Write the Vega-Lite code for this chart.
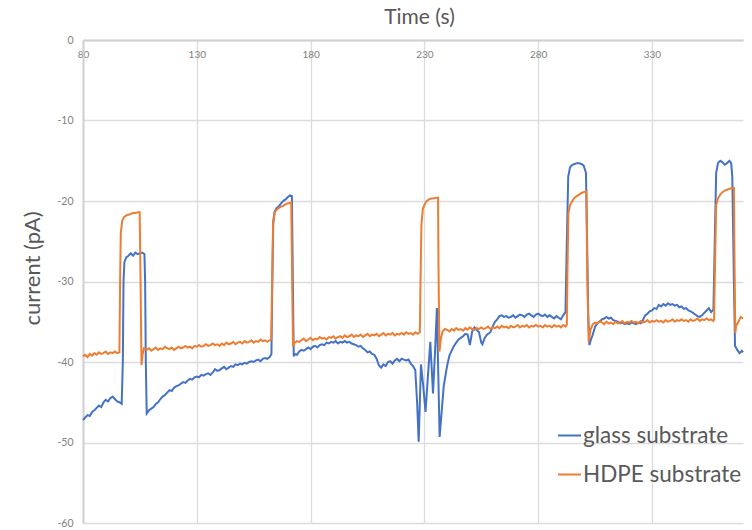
{
  "$schema": "https://vega.github.io/schema/vega-lite/v6.json",
  "width": 660,
  "height": 483,
  "autosize": {"type": "none"},
  "padding": {"left": 83, "top": 40, "right": 9, "bottom": 7},
  "background": "white",
  "config": {
    "view": {"stroke": null},
    "font": "Lato"
  },
  "data": {"values": [
    {"t":80,"v":-47.2,"s":"glass substrate"},{"t":81,"v":-46.9,"s":"glass substrate"},{"t":82,"v":-46.6,"s":"glass substrate"},{"t":83,"v":-46.7,"s":"glass substrate"},{"t":84,"v":-46.2,"s":"glass substrate"},{"t":85,"v":-46.0,"s":"glass substrate"},{"t":86,"v":-45.7,"s":"glass substrate"},{"t":87,"v":-45.4,"s":"glass substrate"},{"t":88,"v":-45.6,"s":"glass substrate"},{"t":89,"v":-45.0,"s":"glass substrate"},{"t":90,"v":-44.7,"s":"glass substrate"},{"t":91,"v":-44.9,"s":"glass substrate"},{"t":92,"v":-44.5,"s":"glass substrate"},{"t":93,"v":-44.3,"s":"glass substrate"},{"t":94,"v":-44.6,"s":"glass substrate"},{"t":95,"v":-44.9,"s":"glass substrate"},{"t":96,"v":-45.0,"s":"glass substrate"},{"t":97,"v":-45.2,"s":"glass substrate"},{"t":97.5,"v":-40,"s":"glass substrate"},{"t":97.8,"v":-30,"s":"glass substrate"},{"t":98.2,"v":-27.6,"s":"glass substrate"},{"t":99,"v":-27.0,"s":"glass substrate"},{"t":100,"v":-26.8,"s":"glass substrate"},{"t":101,"v":-26.5,"s":"glass substrate"},{"t":102,"v":-26.8,"s":"glass substrate"},{"t":103,"v":-26.4,"s":"glass substrate"},{"t":104,"v":-26.6,"s":"glass substrate"},{"t":105,"v":-26.5,"s":"glass substrate"},{"t":106,"v":-26.4,"s":"glass substrate"},{"t":107,"v":-26.6,"s":"glass substrate"},{"t":107.3,"v":-30,"s":"glass substrate"},{"t":107.6,"v":-40,"s":"glass substrate"},{"t":108,"v":-46.4,"s":"glass substrate"},{"t":109,"v":-46.0,"s":"glass substrate"},{"t":110,"v":-45.8,"s":"glass substrate"},{"t":111,"v":-45.6,"s":"glass substrate"},{"t":112,"v":-45.2,"s":"glass substrate"},{"t":113,"v":-45.0,"s":"glass substrate"},{"t":114,"v":-44.6,"s":"glass substrate"},{"t":115,"v":-44.3,"s":"glass substrate"},{"t":116,"v":-44.1,"s":"glass substrate"},{"t":117,"v":-43.8,"s":"glass substrate"},{"t":118,"v":-43.5,"s":"glass substrate"},{"t":119,"v":-43.6,"s":"glass substrate"},{"t":120,"v":-43.2,"s":"glass substrate"},{"t":121,"v":-43.0,"s":"glass substrate"},{"t":122,"v":-42.9,"s":"glass substrate"},{"t":123,"v":-42.7,"s":"glass substrate"},{"t":124,"v":-42.5,"s":"glass substrate"},{"t":125,"v":-42.6,"s":"glass substrate"},{"t":126,"v":-42.3,"s":"glass substrate"},{"t":127,"v":-42.1,"s":"glass substrate"},{"t":128,"v":-42.2,"s":"glass substrate"},{"t":129,"v":-41.9,"s":"glass substrate"},{"t":130,"v":-41.8,"s":"glass substrate"},{"t":131,"v":-41.9,"s":"glass substrate"},{"t":132,"v":-41.6,"s":"glass substrate"},{"t":133,"v":-41.7,"s":"glass substrate"},{"t":134,"v":-41.5,"s":"glass substrate"},{"t":135,"v":-41.4,"s":"glass substrate"},{"t":136,"v":-41.6,"s":"glass substrate"},{"t":137,"v":-41.3,"s":"glass substrate"},{"t":138,"v":-40.9,"s":"glass substrate"},{"t":139,"v":-41.1,"s":"glass substrate"},{"t":140,"v":-41.0,"s":"glass substrate"},{"t":141,"v":-40.8,"s":"glass substrate"},{"t":142,"v":-40.6,"s":"glass substrate"},{"t":143,"v":-40.9,"s":"glass substrate"},{"t":144,"v":-40.7,"s":"glass substrate"},{"t":145,"v":-40.5,"s":"glass substrate"},{"t":146,"v":-40.6,"s":"glass substrate"},{"t":147,"v":-40.3,"s":"glass substrate"},{"t":148,"v":-40.4,"s":"glass substrate"},{"t":149,"v":-40.2,"s":"glass substrate"},{"t":150,"v":-40.3,"s":"glass substrate"},{"t":151,"v":-40.1,"s":"glass substrate"},{"t":152,"v":-40.2,"s":"glass substrate"},{"t":153,"v":-40.0,"s":"glass substrate"},{"t":154,"v":-39.9,"s":"glass substrate"},{"t":155,"v":-40.0,"s":"glass substrate"},{"t":156,"v":-39.8,"s":"glass substrate"},{"t":157,"v":-39.7,"s":"glass substrate"},{"t":158,"v":-39.9,"s":"glass substrate"},{"t":159,"v":-39.6,"s":"glass substrate"},{"t":160,"v":-39.5,"s":"glass substrate"},{"t":161,"v":-39.6,"s":"glass substrate"},{"t":162,"v":-39.4,"s":"glass substrate"},{"t":162.8,"v":-39.0,"s":"glass substrate"},{"t":163.2,"v":-30,"s":"glass substrate"},{"t":163.6,"v":-22.5,"s":"glass substrate"},{"t":164.2,"v":-21.3,"s":"glass substrate"},{"t":165,"v":-20.9,"s":"glass substrate"},{"t":166,"v":-20.7,"s":"glass substrate"},{"t":167,"v":-20.3,"s":"glass substrate"},{"t":168,"v":-20.0,"s":"glass substrate"},{"t":169,"v":-19.8,"s":"glass substrate"},{"t":170,"v":-19.5,"s":"glass substrate"},{"t":171,"v":-19.3,"s":"glass substrate"},{"t":171.8,"v":-19.4,"s":"glass substrate"},{"t":172.2,"v":-30,"s":"glass substrate"},{"t":172.6,"v":-39.3,"s":"glass substrate"},{"t":173,"v":-39.0,"s":"glass substrate"},{"t":174,"v":-39.1,"s":"glass substrate"},{"t":175,"v":-38.7,"s":"glass substrate"},{"t":176,"v":-38.5,"s":"glass substrate"},{"t":177,"v":-38.6,"s":"glass substrate"},{"t":178,"v":-38.4,"s":"glass substrate"},{"t":179,"v":-38.2,"s":"glass substrate"},{"t":180,"v":-38.4,"s":"glass substrate"},{"t":181,"v":-38.1,"s":"glass substrate"},{"t":182,"v":-38.0,"s":"glass substrate"},{"t":183,"v":-38.2,"s":"glass substrate"},{"t":184,"v":-37.9,"s":"glass substrate"},{"t":185,"v":-37.8,"s":"glass substrate"},{"t":186,"v":-37.9,"s":"glass substrate"},{"t":187,"v":-37.6,"s":"glass substrate"},{"t":188,"v":-37.7,"s":"glass substrate"},{"t":189,"v":-37.5,"s":"glass substrate"},{"t":190,"v":-37.6,"s":"glass substrate"},{"t":191,"v":-37.4,"s":"glass substrate"},{"t":192,"v":-37.7,"s":"glass substrate"},{"t":193,"v":-37.5,"s":"glass substrate"},{"t":194,"v":-37.6,"s":"glass substrate"},{"t":195,"v":-37.4,"s":"glass substrate"},{"t":196,"v":-37.6,"s":"glass substrate"},{"t":197,"v":-37.5,"s":"glass substrate"},{"t":198,"v":-37.7,"s":"glass substrate"},{"t":199,"v":-37.8,"s":"glass substrate"},{"t":200,"v":-37.9,"s":"glass substrate"},{"t":201,"v":-38.1,"s":"glass substrate"},{"t":202,"v":-38.0,"s":"glass substrate"},{"t":203,"v":-38.3,"s":"glass substrate"},{"t":204,"v":-38.5,"s":"glass substrate"},{"t":205,"v":-38.8,"s":"glass substrate"},{"t":206,"v":-38.7,"s":"glass substrate"},{"t":207,"v":-39.0,"s":"glass substrate"},{"t":208,"v":-39.1,"s":"glass substrate"},{"t":209,"v":-39.6,"s":"glass substrate"},{"t":210,"v":-40.4,"s":"glass substrate"},{"t":211,"v":-40.7,"s":"glass substrate"},{"t":212,"v":-40.3,"s":"glass substrate"},{"t":213,"v":-40.5,"s":"glass substrate"},{"t":214,"v":-40.0,"s":"glass substrate"},{"t":215,"v":-39.9,"s":"glass substrate"},{"t":216,"v":-40.2,"s":"glass substrate"},{"t":217,"v":-39.8,"s":"glass substrate"},{"t":218,"v":-39.6,"s":"glass substrate"},{"t":219,"v":-39.9,"s":"glass substrate"},{"t":220,"v":-39.6,"s":"glass substrate"},{"t":221,"v":-39.7,"s":"glass substrate"},{"t":222,"v":-39.8,"s":"glass substrate"},{"t":223,"v":-39.7,"s":"glass substrate"},{"t":224,"v":-40.2,"s":"glass substrate"},{"t":225,"v":-40.5,"s":"glass substrate"},{"t":226,"v":-41.0,"s":"glass substrate"},{"t":226.8,"v":-45,"s":"glass substrate"},{"t":227.5,"v":-49.9,"s":"glass substrate"},{"t":228,"v":-45,"s":"glass substrate"},{"t":228.5,"v":-40.3,"s":"glass substrate"},{"t":229.5,"v":-43,"s":"glass substrate"},{"t":230.5,"v":-46.2,"s":"glass substrate"},{"t":231.5,"v":-42,"s":"glass substrate"},{"t":232.6,"v":-37.5,"s":"glass substrate"},{"t":233.8,"v":-43.9,"s":"glass substrate"},{"t":234.8,"v":-38,"s":"glass substrate"},{"t":235.5,"v":-33.3,"s":"glass substrate"},{"t":236,"v":-40,"s":"glass substrate"},{"t":236.7,"v":-49.3,"s":"glass substrate"},{"t":237.5,"v":-46.5,"s":"glass substrate"},{"t":238.5,"v":-43,"s":"glass substrate"},{"t":239.9,"v":-40.6,"s":"glass substrate"},{"t":241,"v":-39.2,"s":"glass substrate"},{"t":242.8,"v":-38.1,"s":"glass substrate"},{"t":244,"v":-37.6,"s":"glass substrate"},{"t":245,"v":-37.2,"s":"glass substrate"},{"t":246,"v":-37.0,"s":"glass substrate"},{"t":247,"v":-36.8,"s":"glass substrate"},{"t":248,"v":-36.5,"s":"glass substrate"},{"t":249,"v":-36.6,"s":"glass substrate"},{"t":250,"v":-37.9,"s":"glass substrate"},{"t":251,"v":-36.2,"s":"glass substrate"},{"t":252,"v":-35.7,"s":"glass substrate"},{"t":253,"v":-36.0,"s":"glass substrate"},{"t":254,"v":-36.3,"s":"glass substrate"},{"t":255,"v":-37.6,"s":"glass substrate"},{"t":255.5,"v":-37.8,"s":"glass substrate"},{"t":256.5,"v":-37.0,"s":"glass substrate"},{"t":257.5,"v":-36.6,"s":"glass substrate"},{"t":259,"v":-36.3,"s":"glass substrate"},{"t":260,"v":-35.6,"s":"glass substrate"},{"t":261,"v":-35.0,"s":"glass substrate"},{"t":262,"v":-34.7,"s":"glass substrate"},{"t":263,"v":-34.3,"s":"glass substrate"},{"t":264,"v":-34.2,"s":"glass substrate"},{"t":265,"v":-34.4,"s":"glass substrate"},{"t":266,"v":-34.3,"s":"glass substrate"},{"t":267,"v":-34.5,"s":"glass substrate"},{"t":268,"v":-34.4,"s":"glass substrate"},{"t":269,"v":-34.2,"s":"glass substrate"},{"t":270,"v":-34.5,"s":"glass substrate"},{"t":271,"v":-34.3,"s":"glass substrate"},{"t":272,"v":-34.1,"s":"glass substrate"},{"t":273,"v":-34.2,"s":"glass substrate"},{"t":274,"v":-34.4,"s":"glass substrate"},{"t":275,"v":-34.1,"s":"glass substrate"},{"t":276,"v":-34.0,"s":"glass substrate"},{"t":277,"v":-34.2,"s":"glass substrate"},{"t":278,"v":-34.4,"s":"glass substrate"},{"t":279,"v":-34.1,"s":"glass substrate"},{"t":280,"v":-34.0,"s":"glass substrate"},{"t":281,"v":-34.2,"s":"glass substrate"},{"t":282,"v":-34.3,"s":"glass substrate"},{"t":283,"v":-34.1,"s":"glass substrate"},{"t":284,"v":-34.4,"s":"glass substrate"},{"t":285,"v":-34.2,"s":"glass substrate"},{"t":286,"v":-34.4,"s":"glass substrate"},{"t":287,"v":-34.6,"s":"glass substrate"},{"t":288,"v":-34.3,"s":"glass substrate"},{"t":289,"v":-34.5,"s":"glass substrate"},{"t":290,"v":-34.7,"s":"glass substrate"},{"t":291,"v":-34.2,"s":"glass substrate"},{"t":292,"v":-33.8,"s":"glass substrate"},{"t":292.6,"v":-25,"s":"glass substrate"},{"t":293.2,"v":-17,"s":"glass substrate"},{"t":294,"v":-15.8,"s":"glass substrate"},{"t":295,"v":-15.5,"s":"glass substrate"},{"t":296,"v":-15.4,"s":"glass substrate"},{"t":297,"v":-15.3,"s":"glass substrate"},{"t":298,"v":-15.3,"s":"glass substrate"},{"t":299,"v":-15.4,"s":"glass substrate"},{"t":300,"v":-15.6,"s":"glass substrate"},{"t":301,"v":-16.5,"s":"glass substrate"},{"t":301.5,"v":-25,"s":"glass substrate"},{"t":302,"v":-34,"s":"glass substrate"},{"t":302.5,"v":-37.9,"s":"glass substrate"},{"t":303.2,"v":-37.2,"s":"glass substrate"},{"t":304,"v":-36.6,"s":"glass substrate"},{"t":305,"v":-35.6,"s":"glass substrate"},{"t":306,"v":-35.2,"s":"glass substrate"},{"t":307,"v":-35.0,"s":"glass substrate"},{"t":308,"v":-34.7,"s":"glass substrate"},{"t":309,"v":-34.6,"s":"glass substrate"},{"t":310,"v":-34.4,"s":"glass substrate"},{"t":311,"v":-34.6,"s":"glass substrate"},{"t":312,"v":-34.5,"s":"glass substrate"},{"t":313,"v":-34.8,"s":"glass substrate"},{"t":314,"v":-34.9,"s":"glass substrate"},{"t":315,"v":-35.0,"s":"glass substrate"},{"t":316,"v":-35.2,"s":"glass substrate"},{"t":317,"v":-35.1,"s":"glass substrate"},{"t":318,"v":-35.3,"s":"glass substrate"},{"t":319,"v":-35.2,"s":"glass substrate"},{"t":320,"v":-35.3,"s":"glass substrate"},{"t":321,"v":-35.1,"s":"glass substrate"},{"t":322,"v":-35.2,"s":"glass substrate"},{"t":323,"v":-35.3,"s":"glass substrate"},{"t":324,"v":-35.1,"s":"glass substrate"},{"t":325,"v":-35.2,"s":"glass substrate"},{"t":326,"v":-34.8,"s":"glass substrate"},{"t":327,"v":-34.2,"s":"glass substrate"},{"t":328,"v":-34.0,"s":"glass substrate"},{"t":329,"v":-33.7,"s":"glass substrate"},{"t":330,"v":-33.6,"s":"glass substrate"},{"t":331,"v":-33.3,"s":"glass substrate"},{"t":332,"v":-33.4,"s":"glass substrate"},{"t":333,"v":-32.9,"s":"glass substrate"},{"t":334,"v":-33.1,"s":"glass substrate"},{"t":335,"v":-32.8,"s":"glass substrate"},{"t":336,"v":-33.0,"s":"glass substrate"},{"t":337,"v":-32.7,"s":"glass substrate"},{"t":338,"v":-32.9,"s":"glass substrate"},{"t":339,"v":-32.8,"s":"glass substrate"},{"t":340,"v":-33.0,"s":"glass substrate"},{"t":341,"v":-32.9,"s":"glass substrate"},{"t":342,"v":-33.2,"s":"glass substrate"},{"t":343,"v":-33.1,"s":"glass substrate"},{"t":344,"v":-33.4,"s":"glass substrate"},{"t":345,"v":-33.3,"s":"glass substrate"},{"t":346,"v":-33.6,"s":"glass substrate"},{"t":347,"v":-33.7,"s":"glass substrate"},{"t":348,"v":-33.9,"s":"glass substrate"},{"t":349,"v":-34.1,"s":"glass substrate"},{"t":350,"v":-34.3,"s":"glass substrate"},{"t":351,"v":-34.4,"s":"glass substrate"},{"t":352,"v":-34.2,"s":"glass substrate"},{"t":353,"v":-33.9,"s":"glass substrate"},{"t":354,"v":-33.6,"s":"glass substrate"},{"t":355,"v":-33.3,"s":"glass substrate"},{"t":356,"v":-33.8,"s":"glass substrate"},{"t":357,"v":-33.5,"s":"glass substrate"},{"t":357.6,"v":-25,"s":"glass substrate"},{"t":358.2,"v":-16.5,"s":"glass substrate"},{"t":359,"v":-15.3,"s":"glass substrate"},{"t":360,"v":-15.0,"s":"glass substrate"},{"t":361,"v":-15.2,"s":"glass substrate"},{"t":362,"v":-15.5,"s":"glass substrate"},{"t":363,"v":-15.3,"s":"glass substrate"},{"t":364,"v":-15.0,"s":"glass substrate"},{"t":364.8,"v":-15.3,"s":"glass substrate"},{"t":365.3,"v":-17,"s":"glass substrate"},{"t":366,"v":-30,"s":"glass substrate"},{"t":366.5,"v":-38.0,"s":"glass substrate"},{"t":367.5,"v":-38.5,"s":"glass substrate"},{"t":368.5,"v":-38.9,"s":"glass substrate"},{"t":369.5,"v":-38.6,"s":"glass substrate"},{"t":370,"v":-38.8,"s":"glass substrate"},

    {"t":80,"v":-39.3,"s":"HDPE substrate"},{"t":81,"v":-39.1,"s":"HDPE substrate"},{"t":82,"v":-39.4,"s":"HDPE substrate"},{"t":83,"v":-39.0,"s":"HDPE substrate"},{"t":84,"v":-39.2,"s":"HDPE substrate"},{"t":85,"v":-38.9,"s":"HDPE substrate"},{"t":86,"v":-39.1,"s":"HDPE substrate"},{"t":87,"v":-38.8,"s":"HDPE substrate"},{"t":88,"v":-39.0,"s":"HDPE substrate"},{"t":89,"v":-38.9,"s":"HDPE substrate"},{"t":90,"v":-38.7,"s":"HDPE substrate"},{"t":91,"v":-39.0,"s":"HDPE substrate"},{"t":92,"v":-38.8,"s":"HDPE substrate"},{"t":93,"v":-38.9,"s":"HDPE substrate"},{"t":94,"v":-38.7,"s":"HDPE substrate"},{"t":95,"v":-38.9,"s":"HDPE substrate"},{"t":96,"v":-38.8,"s":"HDPE substrate"},{"t":96.3,"v":-30,"s":"HDPE substrate"},{"t":96.6,"v":-24,"s":"HDPE substrate"},{"t":97.2,"v":-22.5,"s":"HDPE substrate"},{"t":98,"v":-22.0,"s":"HDPE substrate"},{"t":99,"v":-21.8,"s":"HDPE substrate"},{"t":100,"v":-21.7,"s":"HDPE substrate"},{"t":101,"v":-21.6,"s":"HDPE substrate"},{"t":102,"v":-21.5,"s":"HDPE substrate"},{"t":103,"v":-21.5,"s":"HDPE substrate"},{"t":104,"v":-21.4,"s":"HDPE substrate"},{"t":104.9,"v":-21.4,"s":"HDPE substrate"},{"t":105.3,"v":-30,"s":"HDPE substrate"},{"t":105.7,"v":-40.4,"s":"HDPE substrate"},{"t":106.2,"v":-39,"s":"HDPE substrate"},{"t":106.8,"v":-38.3,"s":"HDPE substrate"},{"t":108,"v":-38.5,"s":"HDPE substrate"},{"t":109,"v":-38.3,"s":"HDPE substrate"},{"t":110,"v":-38.6,"s":"HDPE substrate"},{"t":111,"v":-38.4,"s":"HDPE substrate"},{"t":112,"v":-38.2,"s":"HDPE substrate"},{"t":113,"v":-38.5,"s":"HDPE substrate"},{"t":114,"v":-38.3,"s":"HDPE substrate"},{"t":115,"v":-38.4,"s":"HDPE substrate"},{"t":116,"v":-38.1,"s":"HDPE substrate"},{"t":117,"v":-38.3,"s":"HDPE substrate"},{"t":118,"v":-38.4,"s":"HDPE substrate"},{"t":119,"v":-38.2,"s":"HDPE substrate"},{"t":120,"v":-38.5,"s":"HDPE substrate"},{"t":121,"v":-38.3,"s":"HDPE substrate"},{"t":122,"v":-38.1,"s":"HDPE substrate"},{"t":123,"v":-38.3,"s":"HDPE substrate"},{"t":124,"v":-38.2,"s":"HDPE substrate"},{"t":125,"v":-38.0,"s":"HDPE substrate"},{"t":126,"v":-38.2,"s":"HDPE substrate"},{"t":127,"v":-38.1,"s":"HDPE substrate"},{"t":128,"v":-38.3,"s":"HDPE substrate"},{"t":129,"v":-38.0,"s":"HDPE substrate"},{"t":130,"v":-38.1,"s":"HDPE substrate"},{"t":131,"v":-37.9,"s":"HDPE substrate"},{"t":132,"v":-38.1,"s":"HDPE substrate"},{"t":133,"v":-38.0,"s":"HDPE substrate"},{"t":134,"v":-37.8,"s":"HDPE substrate"},{"t":135,"v":-38.0,"s":"HDPE substrate"},{"t":136,"v":-37.9,"s":"HDPE substrate"},{"t":137,"v":-37.7,"s":"HDPE substrate"},{"t":138,"v":-37.9,"s":"HDPE substrate"},{"t":139,"v":-37.8,"s":"HDPE substrate"},{"t":140,"v":-38.0,"s":"HDPE substrate"},{"t":141,"v":-37.7,"s":"HDPE substrate"},{"t":142,"v":-37.9,"s":"HDPE substrate"},{"t":143,"v":-37.6,"s":"HDPE substrate"},{"t":144,"v":-37.8,"s":"HDPE substrate"},{"t":145,"v":-37.7,"s":"HDPE substrate"},{"t":146,"v":-37.5,"s":"HDPE substrate"},{"t":147,"v":-37.8,"s":"HDPE substrate"},{"t":148,"v":-37.6,"s":"HDPE substrate"},{"t":149,"v":-37.5,"s":"HDPE substrate"},{"t":150,"v":-37.7,"s":"HDPE substrate"},{"t":151,"v":-37.4,"s":"HDPE substrate"},{"t":152,"v":-37.6,"s":"HDPE substrate"},{"t":153,"v":-37.5,"s":"HDPE substrate"},{"t":154,"v":-37.3,"s":"HDPE substrate"},{"t":155,"v":-37.6,"s":"HDPE substrate"},{"t":156,"v":-37.4,"s":"HDPE substrate"},{"t":157,"v":-37.5,"s":"HDPE substrate"},{"t":158,"v":-37.2,"s":"HDPE substrate"},{"t":159,"v":-37.4,"s":"HDPE substrate"},{"t":160,"v":-37.3,"s":"HDPE substrate"},{"t":161,"v":-37.5,"s":"HDPE substrate"},{"t":162,"v":-37.3,"s":"HDPE substrate"},{"t":162.7,"v":-37.2,"s":"HDPE substrate"},{"t":163.1,"v":-30,"s":"HDPE substrate"},{"t":163.5,"v":-23,"s":"HDPE substrate"},{"t":164.2,"v":-21.4,"s":"HDPE substrate"},{"t":165,"v":-21.1,"s":"HDPE substrate"},{"t":166,"v":-20.9,"s":"HDPE substrate"},{"t":167,"v":-20.7,"s":"HDPE substrate"},{"t":168,"v":-20.6,"s":"HDPE substrate"},{"t":169,"v":-20.4,"s":"HDPE substrate"},{"t":170,"v":-20.3,"s":"HDPE substrate"},{"t":171.5,"v":-20.2,"s":"HDPE substrate"},{"t":171.9,"v":-30,"s":"HDPE substrate"},{"t":172.3,"v":-38.1,"s":"HDPE substrate"},{"t":173,"v":-37.6,"s":"HDPE substrate"},{"t":174,"v":-37.4,"s":"HDPE substrate"},{"t":175,"v":-37.5,"s":"HDPE substrate"},{"t":176,"v":-37.3,"s":"HDPE substrate"},{"t":177,"v":-37.1,"s":"HDPE substrate"},{"t":178,"v":-37.4,"s":"HDPE substrate"},{"t":179,"v":-37.2,"s":"HDPE substrate"},{"t":180,"v":-37.0,"s":"HDPE substrate"},{"t":181,"v":-37.3,"s":"HDPE substrate"},{"t":182,"v":-37.1,"s":"HDPE substrate"},{"t":183,"v":-37.2,"s":"HDPE substrate"},{"t":184,"v":-36.9,"s":"HDPE substrate"},{"t":185,"v":-37.1,"s":"HDPE substrate"},{"t":186,"v":-37.0,"s":"HDPE substrate"},{"t":187,"v":-37.2,"s":"HDPE substrate"},{"t":188,"v":-36.9,"s":"HDPE substrate"},{"t":189,"v":-37.0,"s":"HDPE substrate"},{"t":190,"v":-36.8,"s":"HDPE substrate"},{"t":191,"v":-37.1,"s":"HDPE substrate"},{"t":192,"v":-36.9,"s":"HDPE substrate"},{"t":193,"v":-36.8,"s":"HDPE substrate"},{"t":194,"v":-37.0,"s":"HDPE substrate"},{"t":195,"v":-36.7,"s":"HDPE substrate"},{"t":196,"v":-36.9,"s":"HDPE substrate"},{"t":197,"v":-36.8,"s":"HDPE substrate"},{"t":198,"v":-36.6,"s":"HDPE substrate"},{"t":199,"v":-36.9,"s":"HDPE substrate"},{"t":200,"v":-36.7,"s":"HDPE substrate"},{"t":201,"v":-36.8,"s":"HDPE substrate"},{"t":202,"v":-36.6,"s":"HDPE substrate"},{"t":203,"v":-36.9,"s":"HDPE substrate"},{"t":204,"v":-36.7,"s":"HDPE substrate"},{"t":205,"v":-36.5,"s":"HDPE substrate"},{"t":206,"v":-36.8,"s":"HDPE substrate"},{"t":207,"v":-36.6,"s":"HDPE substrate"},{"t":208,"v":-36.7,"s":"HDPE substrate"},{"t":209,"v":-36.5,"s":"HDPE substrate"},{"t":210,"v":-36.8,"s":"HDPE substrate"},{"t":211,"v":-36.6,"s":"HDPE substrate"},{"t":212,"v":-36.4,"s":"HDPE substrate"},{"t":213,"v":-36.7,"s":"HDPE substrate"},{"t":214,"v":-36.5,"s":"HDPE substrate"},{"t":215,"v":-36.6,"s":"HDPE substrate"},{"t":216,"v":-36.4,"s":"HDPE substrate"},{"t":217,"v":-36.7,"s":"HDPE substrate"},{"t":218,"v":-36.5,"s":"HDPE substrate"},{"t":219,"v":-36.6,"s":"HDPE substrate"},{"t":220,"v":-36.4,"s":"HDPE substrate"},{"t":221,"v":-36.6,"s":"HDPE substrate"},{"t":222,"v":-36.3,"s":"HDPE substrate"},{"t":223,"v":-36.5,"s":"HDPE substrate"},{"t":224,"v":-36.4,"s":"HDPE substrate"},{"t":225,"v":-36.6,"s":"HDPE substrate"},{"t":226,"v":-36.3,"s":"HDPE substrate"},{"t":227,"v":-36.5,"s":"HDPE substrate"},{"t":228,"v":-36.3,"s":"HDPE substrate"},{"t":228.3,"v":-30,"s":"HDPE substrate"},{"t":228.7,"v":-23,"s":"HDPE substrate"},{"t":229.3,"v":-21.0,"s":"HDPE substrate"},{"t":230,"v":-20.5,"s":"HDPE substrate"},{"t":231,"v":-20.0,"s":"HDPE substrate"},{"t":232,"v":-19.8,"s":"HDPE substrate"},{"t":233,"v":-19.7,"s":"HDPE substrate"},{"t":234,"v":-19.7,"s":"HDPE substrate"},{"t":235,"v":-19.6,"s":"HDPE substrate"},{"t":236,"v":-19.6,"s":"HDPE substrate"},{"t":236.2,"v":-28,"s":"HDPE substrate"},{"t":236.6,"v":-38.7,"s":"HDPE substrate"},{"t":237.3,"v":-37.0,"s":"HDPE substrate"},{"t":238,"v":-36.2,"s":"HDPE substrate"},{"t":239,"v":-35.9,"s":"HDPE substrate"},{"t":240,"v":-36.0,"s":"HDPE substrate"},{"t":241,"v":-36.2,"s":"HDPE substrate"},{"t":242,"v":-35.9,"s":"HDPE substrate"},{"t":243,"v":-36.1,"s":"HDPE substrate"},{"t":244,"v":-35.8,"s":"HDPE substrate"},{"t":245,"v":-36.0,"s":"HDPE substrate"},{"t":246,"v":-35.9,"s":"HDPE substrate"},{"t":247,"v":-36.1,"s":"HDPE substrate"},{"t":248,"v":-35.8,"s":"HDPE substrate"},{"t":249,"v":-36.0,"s":"HDPE substrate"},{"t":250,"v":-35.7,"s":"HDPE substrate"},{"t":251,"v":-35.9,"s":"HDPE substrate"},{"t":252,"v":-36.0,"s":"HDPE substrate"},{"t":253,"v":-35.8,"s":"HDPE substrate"},{"t":254,"v":-35.9,"s":"HDPE substrate"},{"t":255,"v":-35.7,"s":"HDPE substrate"},{"t":256,"v":-35.9,"s":"HDPE substrate"},{"t":257,"v":-35.8,"s":"HDPE substrate"},{"t":258,"v":-35.6,"s":"HDPE substrate"},{"t":259,"v":-35.9,"s":"HDPE substrate"},{"t":260,"v":-35.7,"s":"HDPE substrate"},{"t":261,"v":-35.8,"s":"HDPE substrate"},{"t":262,"v":-35.6,"s":"HDPE substrate"},{"t":263,"v":-35.8,"s":"HDPE substrate"},{"t":264,"v":-35.5,"s":"HDPE substrate"},{"t":265,"v":-35.7,"s":"HDPE substrate"},{"t":266,"v":-35.6,"s":"HDPE substrate"},{"t":267,"v":-35.8,"s":"HDPE substrate"},{"t":268,"v":-35.5,"s":"HDPE substrate"},{"t":269,"v":-35.7,"s":"HDPE substrate"},{"t":270,"v":-35.6,"s":"HDPE substrate"},{"t":271,"v":-35.4,"s":"HDPE substrate"},{"t":272,"v":-35.7,"s":"HDPE substrate"},{"t":273,"v":-35.5,"s":"HDPE substrate"},{"t":274,"v":-35.6,"s":"HDPE substrate"},{"t":275,"v":-35.4,"s":"HDPE substrate"},{"t":276,"v":-35.7,"s":"HDPE substrate"},{"t":277,"v":-35.5,"s":"HDPE substrate"},{"t":278,"v":-35.6,"s":"HDPE substrate"},{"t":279,"v":-35.4,"s":"HDPE substrate"},{"t":280,"v":-35.6,"s":"HDPE substrate"},{"t":281,"v":-35.5,"s":"HDPE substrate"},{"t":282,"v":-35.7,"s":"HDPE substrate"},{"t":283,"v":-35.4,"s":"HDPE substrate"},{"t":284,"v":-35.6,"s":"HDPE substrate"},{"t":285,"v":-35.5,"s":"HDPE substrate"},{"t":286,"v":-35.7,"s":"HDPE substrate"},{"t":287,"v":-35.4,"s":"HDPE substrate"},{"t":288,"v":-35.6,"s":"HDPE substrate"},{"t":289,"v":-35.5,"s":"HDPE substrate"},{"t":290,"v":-35.7,"s":"HDPE substrate"},{"t":291,"v":-35.4,"s":"HDPE substrate"},{"t":292,"v":-35.6,"s":"HDPE substrate"},{"t":292.6,"v":-35.3,"s":"HDPE substrate"},{"t":292.9,"v":-28,"s":"HDPE substrate"},{"t":293.3,"v":-21.5,"s":"HDPE substrate"},{"t":294,"v":-20.5,"s":"HDPE substrate"},{"t":295,"v":-20.0,"s":"HDPE substrate"},{"t":296,"v":-19.6,"s":"HDPE substrate"},{"t":297,"v":-19.4,"s":"HDPE substrate"},{"t":298,"v":-19.2,"s":"HDPE substrate"},{"t":299,"v":-19.0,"s":"HDPE substrate"},{"t":300,"v":-18.9,"s":"HDPE substrate"},{"t":301.2,"v":-18.8,"s":"HDPE substrate"},{"t":301.6,"v":-30,"s":"HDPE substrate"},{"t":302.2,"v":-37.5,"s":"HDPE substrate"},{"t":303,"v":-36.0,"s":"HDPE substrate"},{"t":304,"v":-35.3,"s":"HDPE substrate"},{"t":305,"v":-35.1,"s":"HDPE substrate"},{"t":306,"v":-35.2,"s":"HDPE substrate"},{"t":307,"v":-34.9,"s":"HDPE substrate"},{"t":308,"v":-35.1,"s":"HDPE substrate"},{"t":309,"v":-35.3,"s":"HDPE substrate"},{"t":310,"v":-35.0,"s":"HDPE substrate"},{"t":311,"v":-35.2,"s":"HDPE substrate"},{"t":312,"v":-35.1,"s":"HDPE substrate"},{"t":313,"v":-35.3,"s":"HDPE substrate"},{"t":314,"v":-35.0,"s":"HDPE substrate"},{"t":315,"v":-35.2,"s":"HDPE substrate"},{"t":316,"v":-35.1,"s":"HDPE substrate"},{"t":317,"v":-34.9,"s":"HDPE substrate"},{"t":318,"v":-35.2,"s":"HDPE substrate"},{"t":319,"v":-35.0,"s":"HDPE substrate"},{"t":320,"v":-35.1,"s":"HDPE substrate"},{"t":321,"v":-34.9,"s":"HDPE substrate"},{"t":322,"v":-35.1,"s":"HDPE substrate"},{"t":323,"v":-35.0,"s":"HDPE substrate"},{"t":324,"v":-35.2,"s":"HDPE substrate"},{"t":325,"v":-34.9,"s":"HDPE substrate"},{"t":326,"v":-35.1,"s":"HDPE substrate"},{"t":327,"v":-35.0,"s":"HDPE substrate"},{"t":328,"v":-34.8,"s":"HDPE substrate"},{"t":329,"v":-35.1,"s":"HDPE substrate"},{"t":330,"v":-34.9,"s":"HDPE substrate"},{"t":331,"v":-35.0,"s":"HDPE substrate"},{"t":332,"v":-34.8,"s":"HDPE substrate"},{"t":333,"v":-35.0,"s":"HDPE substrate"},{"t":334,"v":-34.9,"s":"HDPE substrate"},{"t":335,"v":-35.1,"s":"HDPE substrate"},{"t":336,"v":-34.8,"s":"HDPE substrate"},{"t":337,"v":-35.0,"s":"HDPE substrate"},{"t":338,"v":-34.9,"s":"HDPE substrate"},{"t":339,"v":-34.7,"s":"HDPE substrate"},{"t":340,"v":-35.0,"s":"HDPE substrate"},{"t":341,"v":-34.8,"s":"HDPE substrate"},{"t":342,"v":-34.9,"s":"HDPE substrate"},{"t":343,"v":-34.7,"s":"HDPE substrate"},{"t":344,"v":-34.9,"s":"HDPE substrate"},{"t":345,"v":-34.8,"s":"HDPE substrate"},{"t":346,"v":-35.0,"s":"HDPE substrate"},{"t":347,"v":-34.7,"s":"HDPE substrate"},{"t":348,"v":-34.9,"s":"HDPE substrate"},{"t":349,"v":-34.8,"s":"HDPE substrate"},{"t":350,"v":-34.6,"s":"HDPE substrate"},{"t":351,"v":-34.9,"s":"HDPE substrate"},{"t":352,"v":-34.7,"s":"HDPE substrate"},{"t":353,"v":-34.8,"s":"HDPE substrate"},{"t":354,"v":-34.6,"s":"HDPE substrate"},{"t":355,"v":-34.8,"s":"HDPE substrate"},{"t":356,"v":-34.7,"s":"HDPE substrate"},{"t":357,"v":-34.9,"s":"HDPE substrate"},{"t":357.3,"v":-34.7,"s":"HDPE substrate"},{"t":357.7,"v":-28,"s":"HDPE substrate"},{"t":358.2,"v":-20.5,"s":"HDPE substrate"},{"t":359,"v":-19.7,"s":"HDPE substrate"},{"t":360,"v":-19.2,"s":"HDPE substrate"},{"t":361,"v":-18.9,"s":"HDPE substrate"},{"t":362,"v":-18.7,"s":"HDPE substrate"},{"t":363,"v":-18.6,"s":"HDPE substrate"},{"t":364,"v":-18.5,"s":"HDPE substrate"},{"t":365,"v":-18.4,"s":"HDPE substrate"},{"t":366,"v":-18.4,"s":"HDPE substrate"},{"t":366.3,"v":-28,"s":"HDPE substrate"},{"t":366.6,"v":-36.4,"s":"HDPE substrate"},{"t":367,"v":-35.5,"s":"HDPE substrate"},{"t":368,"v":-35.0,"s":"HDPE substrate"},{"t":369,"v":-34.4,"s":"HDPE substrate"},{"t":370,"v":-34.6,"s":"HDPE substrate"}
  ]},
  "mark": {"type": "line", "strokeWidth": 2, "interpolate": "linear"},
  "encoding": {
    "x": {
      "field": "t", "type": "quantitative",
      "scale": {"domain": [80, 370], "nice": false, "zero": false},
      "axis": {
        "orient": "top",
        "title": "Time (s)",
        "titleFont": "Lato", "titleFontSize": 21, "titleFontWeight": "normal", "titleColor": "#595959",
        "titleX": 336, "titleY": -23, "titleBaseline": "middle", "titleAnchor": "middle",
        "values": [80, 130, 180, 230, 280, 330],
        "tickSize": 0, "labelPadding": -9, "labelBaseline": "top", "labelFlush": false,
        "labelFont": "Lato", "labelFontSize": 10, "labelColor": "#7f7f7f",
        "domainColor": "#d0d0d0", "domainWidth": 2,
        "gridColor": "#dcdcdc", "gridWidth": 1.3
      }
    },
    "y": {
      "field": "v", "type": "quantitative",
      "scale": {"domain": [-60, 0], "nice": false, "zero": false},
      "axis": {
        "title": "current (pA)",
        "titleFont": "Lato", "titleFontSize": 22, "titleFontWeight": "normal", "titleColor": "#595959",
        "titleX": -39, "titleY": 228, "titleAnchor": "middle",
        "values": [0, -10, -20, -30, -40, -50, -60],
        "labelExpr": "toString(datum.value)",
        "tickSize": 0, "labelPadding": 10, "labelFlush": false,
        "labelFont": "Lato", "labelFontSize": 10.5, "labelColor": "#7f7f7f",
        "domainColor": "#d0d0d0", "domainWidth": 2,
        "gridColor": "#dcdcdc", "gridWidth": 1.3
      }
    },
    "color": {
      "field": "s", "type": "nominal",
      "scale": {"domain": ["glass substrate", "HDPE substrate"], "range": ["#4472C4", "#ED7D31"]},
      "legend": {
        "title": null, "orient": "none", "legendX": 474, "legendY": 383,
        "symbolType": "stroke", "symbolSize": 529, "symbolStrokeWidth": 2,
        "labelFont": "Lato", "labelFontSize": 22.5, "labelColor": "#595959", "labelLimit": 400,
        "labelOffset": 1, "rowPadding": 15, "padding": 0
      }
    }
  }
}
